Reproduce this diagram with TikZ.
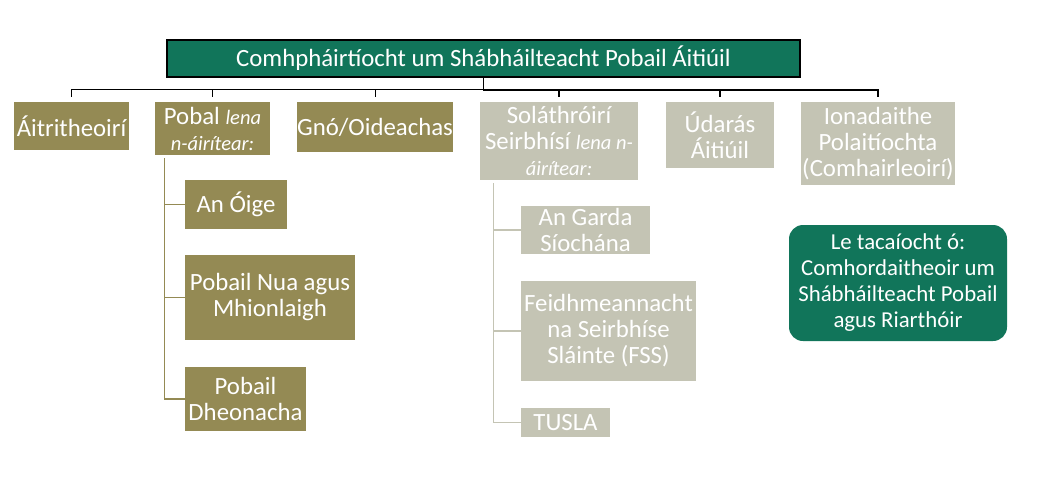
\documentclass[tikz,border=0pt]{standalone}
\usepackage{fontspec}
\setmainfont{Carlito}
\definecolor{csgreen}{RGB}{17,117,90}
\definecolor{csolive}{RGB}{148,138,84}
\definecolor{csgrey}{RGB}{196,196,180}
\newcommand{\smit}[1]{{\fontsize{20.5}{26}\selectfont\itshape #1}}
\tikzset{
  box/.style={inner sep=0pt, align=center, text=white, font=\fontsize{24.8}{26}\selectfont},
  olivebox/.style={box, fill=csolive},
  greybox/.style={box, fill=csgrey},
  bus/.style={draw=black, line width=1pt},
}

\begin{document}
\begin{tikzpicture}[x=1pt, y=-1pt]
  \useasboundingbox (0,0) rectangle (1062,480);
  \node (top) [box, fill=csgreen, draw=black, line width=1.2pt, minimum width=633pt, minimum height=37pt] at (483.5,58.5) {Comhpháirtíocht um Shábháilteacht Pobail Áitiúil};
  \node (a1) [olivebox, minimum width=115pt, minimum height=48pt] at (71.5,126) {Áitritheoirí};
  \node (a2) [olivebox, minimum width=115pt, minimum height=53pt] at (212.5,128.5) {Pobal \smit{lena}\\\smit{n-áirítear:}};
  \node (a3) [olivebox, minimum width=156pt, minimum height=50pt] at (375,127) {Gnó/Oideachas};
  \node (a4) [greybox, minimum width=158pt, minimum height=78pt] at (559,141) {Soláthróirí\\Seirbhísí \smit{lena n-}\\\smit{áirítear:}};
  \node (a5) [greybox, minimum width=108pt, minimum height=66pt] at (720,135) {Údarás\\Áitiúil};
  \node (a6) [greybox, minimum width=154pt, minimum height=83pt] at (878,143.5) {Ionadaithe\\Polaitíochta\\(Comhairleoirí)};
  \node (b1) [olivebox, minimum width=102pt, minimum height=49pt] at (236,204.5) {An Óige};
  \node (b2) [olivebox, minimum width=170pt, minimum height=85pt] at (270,297.5) {Pobail Nua agus\\Mhionlaigh};
  \node (b3) [olivebox, minimum width=121pt, minimum height=64pt] at (245.5,399) {Pobail\\Dheonacha};
  \node (c1) [greybox, minimum width=129pt, minimum height=48pt] at (585.5,230) {An Garda\\Síochána};
  \node (c2) [greybox, minimum width=175pt, minimum height=100pt] at (608.5,331) {Feidhmeannacht\\na Seirbhíse\\Sláinte (FSS)};
  \node (c3) [greybox, minimum width=89pt, minimum height=29pt] at (565.5,422.5) {TUSLA};
  \node (help) [box, fill=csgreen, rounded corners=14pt, minimum width=218pt, minimum height=116pt, font=\fontsize{22.8}{26}\selectfont] at (898,283) {Le tacaíocht ó:\\Comhordaitheoir um\\Shábháilteacht Pobail\\agus Riarthóir};
  \foreach \n in {a1,a2,a3}
    \draw [bus] (top.south) -- ++(0,12) -| ([yshift=5pt]\n.north);
  \foreach \n in {a4,a5,a6}
    \draw [bus, line width=1.8pt] (top.south) -- ++(0,12) -| ([yshift=5pt]\n.north);
  \foreach \n in {b1,b2,b3}
    \draw [draw=csolive, line width=1.2pt] ([xshift=10pt,yshift=-3pt]a2.south west) |- (\n.west);
  \foreach \n in {c1,c2,c3}
    \draw [draw=csgrey, line width=1.2pt] ([xshift=14pt,yshift=-3pt]a4.south west) |- (\n.west);
\end{tikzpicture}
\end{document}
